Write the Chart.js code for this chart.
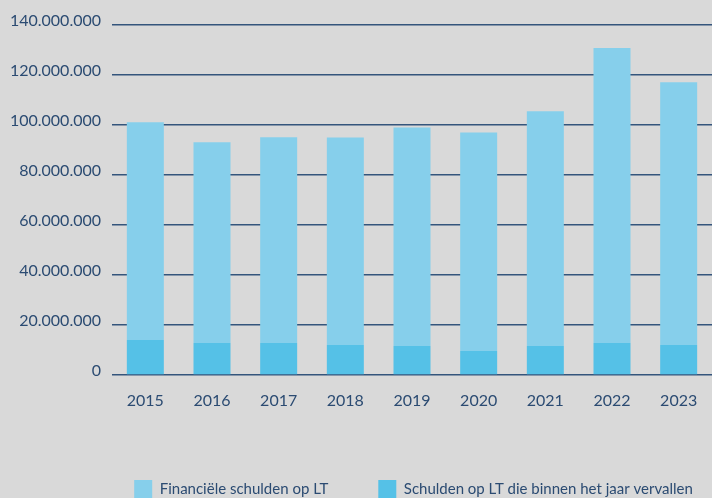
<!DOCTYPE html>
<html>
<head>
<meta charset="utf-8">
<script src="https://cdn.jsdelivr.net/npm/chart.js@4/dist/chart.umd.min.js"></script>
<style>
  html, body { margin: 0; padding: 0; background: #d9d9d9; }
  #wrap { width: 712px; height: 498px; }
</style>
</head>
<body>
<div id="wrap"><canvas id="c" width="712" height="498"></canvas></div>
<script>
// schulden op lange termijn per jaar (EUR)
const years = ['2015', '2016', '2017', '2018', '2019', '2020', '2021', '2022', '2023'];
const binnenJaar = [14000000, 12800000, 12800000, 12000000, 11600000, 9600000, 11600000, 12800000, 12000000];
const financieelLT = [87100000, 80300000, 82300000, 83000000, 87400000, 87400000, 93900000, 118000000, 105100000];
const yTicks = [0, 20000000, 40000000, 60000000, 80000000, 100000000, 120000000, 140000000];

const INK = '#2b4b72';
const GRID = '#34557c';
const LIGHT = '#86cfeb';
const DARK = '#55c1e7';

// 140000000 -> 140.000.000
const fmt = v => String(v).replace(/\B(?=(\d{3})+(?!\d))/g, '.');

// hoogte die de legende inneemt, zodat de x-as op y=374 eindigt
function legendHeight(scale) {
  const lg = scale.chart.legend;
  return lg ? lg.height : 0;
}

// legende naar rechts en onderaan, zoals in het origineel
const legendShift = {
  id: 'legendShift',
  afterLayout(chart) {
    const lg = chart.legend;
    const h = lg.bottom - lg.top;
    lg.left += 56; lg.right += 56;
    lg.top = 430; lg.bottom = 430 + h;
  }
};

new Chart(document.getElementById('c'), {
  type: 'bar',
  data: {
    labels: years,
    datasets: [
      { label: 'Schulden op LT die binnen het jaar vervallen', data: binnenJaar, backgroundColor: DARK, stack: 's' },
      { label: 'Financiële schulden op LT', data: financieelLT, backgroundColor: LIGHT, stack: 's' }
    ]
  },
  options: {
    responsive: false,
    animation: false,
    layout: { padding: { top: 25, right: -3, bottom: 0, left: 0 } },
    datasets: { bar: { barPercentage: 0.555, categoryPercentage: 1 } },
    plugins: {
      tooltip: { enabled: false },
      legend: {
        position: 'bottom',
        labels: {
          boxWidth: 18, boxHeight: 18, padding: 50, color: INK,
          font: { family: 'Lato', size: 15 },
          sort: (a, b) => b.datasetIndex - a.datasetIndex
        }
      }
    },
    scales: {
      x: {
        stacked: true,
        grid: { display: false },
        border: { display: false },
        ticks: { color: INK, font: { family: 'Lato', size: 16 }, padding: 8 },
        afterFit(scale) { scale.height = 123 - legendHeight(scale); }
      },
      y: {
        stacked: true,
        min: 0, max: 140000000,
        afterBuildTicks(scale) { scale.ticks = yTicks.map(v => ({ value: v })); },
        afterFit(scale) { scale.width = 112; },
        grid: { color: GRID, lineWidth: 1.5, drawTicks: false },
        border: { display: false },
        ticks: { color: INK, font: { family: 'Lato', size: 16 }, padding: 11, labelOffset: -4, callback: v => fmt(v) }
      }
    }
  },
  plugins: [legendShift]
});
</script>
</body>
</html>
